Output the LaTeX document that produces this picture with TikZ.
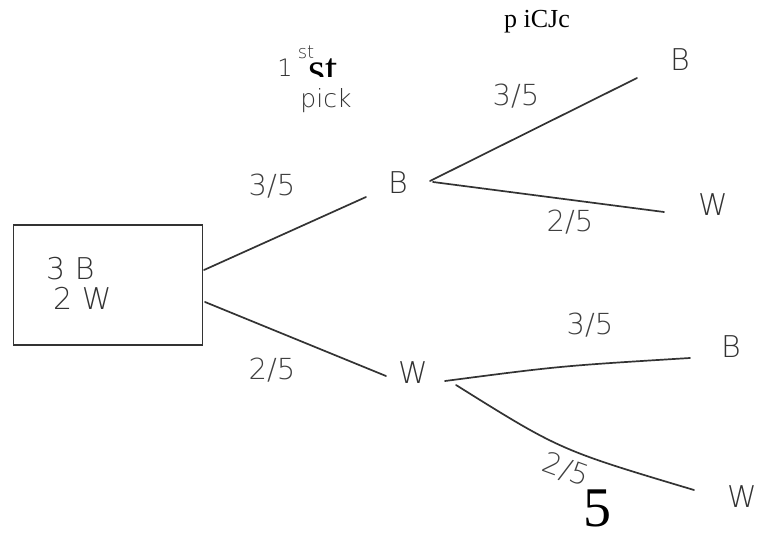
\documentclass[tikz,border=0pt]{standalone}
\usepackage{fontspec}
\setmainfont{Liberation Serif}
\newfontfamily\hand{DejaVu Sans ExtraLight}
\begin{document}
\begin{tikzpicture}[x=1pt,y=-1pt,
  ink/.style={draw=black!80,line width=1.7pt,line cap=round},
  hw/.style={font=\hand\fontsize{30}{32}\selectfont,text=black!80,inner sep=0pt},
  frac/.style={font=\hand\fontsize{29}{31}\selectfont,text=black!75,inner sep=0pt},
  printed/.style={font=\fontsize{26}{28}\selectfont,text=black,inner sep=0pt}]
\useasboundingbox (0,0) rectangle (757,534);
% root box
\node[draw=black!80,line width=1.7pt,minimum width=189pt,minimum height=120pt,inner sep=0pt] (root) at (108,285) {};
\node[hw,anchor=west] (rt1) at (46,269) {3 B};
\node[hw,anchor=west] (rt2) at (53,298) {2 W};
% level 1
\node[hw] (b1) at (398,183) {B};
\node[hw] (w1) at (413,373) {W};
% level 2
\node[hw] (bb) at (680,60) {B};
\node[hw] (bw) at (713,205) {W};
\node[hw] (wb) at (731,347) {B};
\node[hw] (ww) at (742,497) {W};
% connector ends
\coordinate (r1) at (204,270);
\coordinate (r2) at (205,302);
\coordinate (b1in) at (366,197);
\coordinate (w1in) at (386,376);
\coordinate (b1o1) at (430,181);
\coordinate (b1o2) at (433,182);
\coordinate (w1o1) at (445,381);
\coordinate (w1o2) at (456,385);
\coordinate (bbin) at (637,78);
\coordinate (bwin) at (664,212);
\coordinate (wbin) at (690,358);
\coordinate (wwin) at (694,490);
\draw[ink] (r1) -- (b1in);
\draw[ink] (r2) -- (w1in);
\draw[ink] (b1o1) -- (bbin);
\draw[ink] (b1o2) -- (bwin);
\draw[ink] (w1o1) .. controls (560,366) .. (wbin);
\draw[ink] (w1o2) .. controls (560,450) .. (wwin);
% probabilities
\node[frac] (p1) at (272,186) {3/5};
\node[frac] (p2) at (272,370) {2/5};
\node[frac] (p3) at (516,96) {3/5};
\node[frac] (p4) at (570,222) {2/5};
\node[frac] (p5) at (590,325) {3/5};
\node[frac,rotate=-20] (p6) at (566,470) {2/5};
% 1st pick handwriting
\node[hw,font=\hand\fontsize{24}{26}\selectfont] (one) at (285,68) {1};
\node[hw,font=\hand\fontsize{18}{20}\selectfont] (sup) at (306,52) {st};
\node[hw,font=\hand\fontsize{25}{27}\selectfont] (pick) at (326,101) {pick};
% printed overlay text
\node[printed] (ocr1) at (537,22) {p iCJc};
\begin{scope}
\clip (290,55) rectangle (360,77);
\node[printed,font=\fontsize{44}{46}\selectfont,anchor=north] (ocr2) at (323,59) {st};
\end{scope}
\node[printed,font=\fontsize{56}{60}\selectfont,anchor=north] (ocr3) at (597,490) {5};
\end{tikzpicture}
\end{document}
